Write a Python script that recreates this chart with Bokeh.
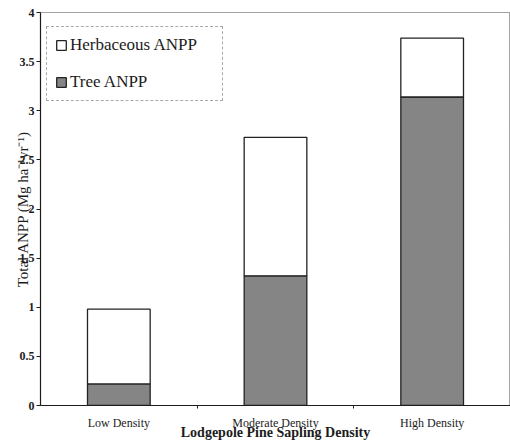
from bokeh.plotting import figure
from bokeh.models import Range1d, FixedTicker, ColumnDataSource, Legend, LegendItem
from bokeh.embed import file_html
from bokeh.resources import INLINE

categories = ["Low Density", "Moderate Density", "High Density"]
tree_anpp = [0.22, 1.32, 3.14]
herb_anpp = [0.76, 1.41, 0.60]
y_ticks = [0, 0.5, 1, 1.5, 2, 2.5, 3, 3.5, 4]

xs = [i + 0.5 for i in range(len(categories))]
source = ColumnDataSource(dict(x=xs, tree=tree_anpp, herb=herb_anpp))

FONT = "Liberation Serif"
INK = "#1c1c1c"

p = figure(width=510, height=442, output_backend="svg", toolbar_location=None,
           x_range=Range1d(0, len(categories)), y_range=Range1d(0, 4),
           min_border_left=40, min_border_right=0, min_border_top=12, min_border_bottom=0)
p.background_fill_color = "white"
p.border_fill_color = "white"
p.grid.visible = False
p.outline_line_color = "#444444"
p.outline_line_dash = "1 1"
p.outline_line_width = 1

r = p.vbar_stack(["tree", "herb"], x="x", width=0.4, source=source,
                 fill_color=["#858585", "white"], line_color="#222222", line_width=1.3)

# x axis
xa = p.xaxis[0]
xa.ticker = FixedTicker(ticks=xs, minor_ticks=[1, 2])
xa.major_label_overrides = {x: c for x, c in zip(xs, categories)}
xa.major_tick_line_color = None
xa.minor_tick_line_color = INK
xa.minor_tick_out = 3
xa.minor_tick_in = 0
xa.axis_line_color = INK
xa.axis_line_width = 1.2
xa.major_label_text_font = FONT
xa.major_label_text_font_size = "12px"
xa.major_label_text_color = INK
xa.major_label_standoff = 4
xa.axis_label = "Lodgepole Pine Sapling Density"
xa.axis_label_text_font = FONT
xa.axis_label_text_font_size = "14px"
xa.axis_label_text_font_style = "bold"
xa.axis_label_text_color = INK
xa.axis_label_standoff = -8

# y axis
ya = p.yaxis[0]
ya.ticker = FixedTicker(ticks=y_ticks)
ya.major_label_overrides = {t: ("%g" % t) for t in y_ticks}
ya.major_tick_out = 4
ya.major_tick_in = 0
ya.minor_tick_line_color = None
ya.major_tick_line_color = INK
ya.axis_line_color = INK
ya.axis_line_width = 1.2
ya.major_label_text_font = FONT
ya.major_label_text_font_size = "12px"
ya.major_label_text_font_style = "bold"
ya.major_label_text_color = INK
ya.major_label_standoff = 2
ya.axis_label = "Total ANPP (Mg ha\u207b\u00b9yr\u207b\u00b9)"
ya.axis_label_text_font = FONT
ya.axis_label_text_font_size = "15px"
ya.axis_label_text_font_style = "normal"
ya.axis_label_text_color = INK
ya.axis_label_standoff = -14

legend = Legend(items=[LegendItem(label="Herbaceous ANPP", renderers=[r[1]]),
                       LegendItem(label="Tree ANPP", renderers=[r[0]])],
                location=(6, 304))
legend.label_text_font = FONT
legend.label_text_font_size = "17px"
legend.label_text_color = INK
legend.glyph_width = 12
legend.glyph_height = 12
legend.label_height = 14
legend.label_width = 144
legend.label_standoff = 3
legend.padding = 8
legend.spacing = 17
legend.margin = 0
legend.border_line_color = "#555555"
legend.border_line_dash = "2 1"
legend.border_line_width = 1
legend.background_fill_alpha = 1
p.add_layout(legend)

open("out.html", "w").write(file_html(p, INLINE))
